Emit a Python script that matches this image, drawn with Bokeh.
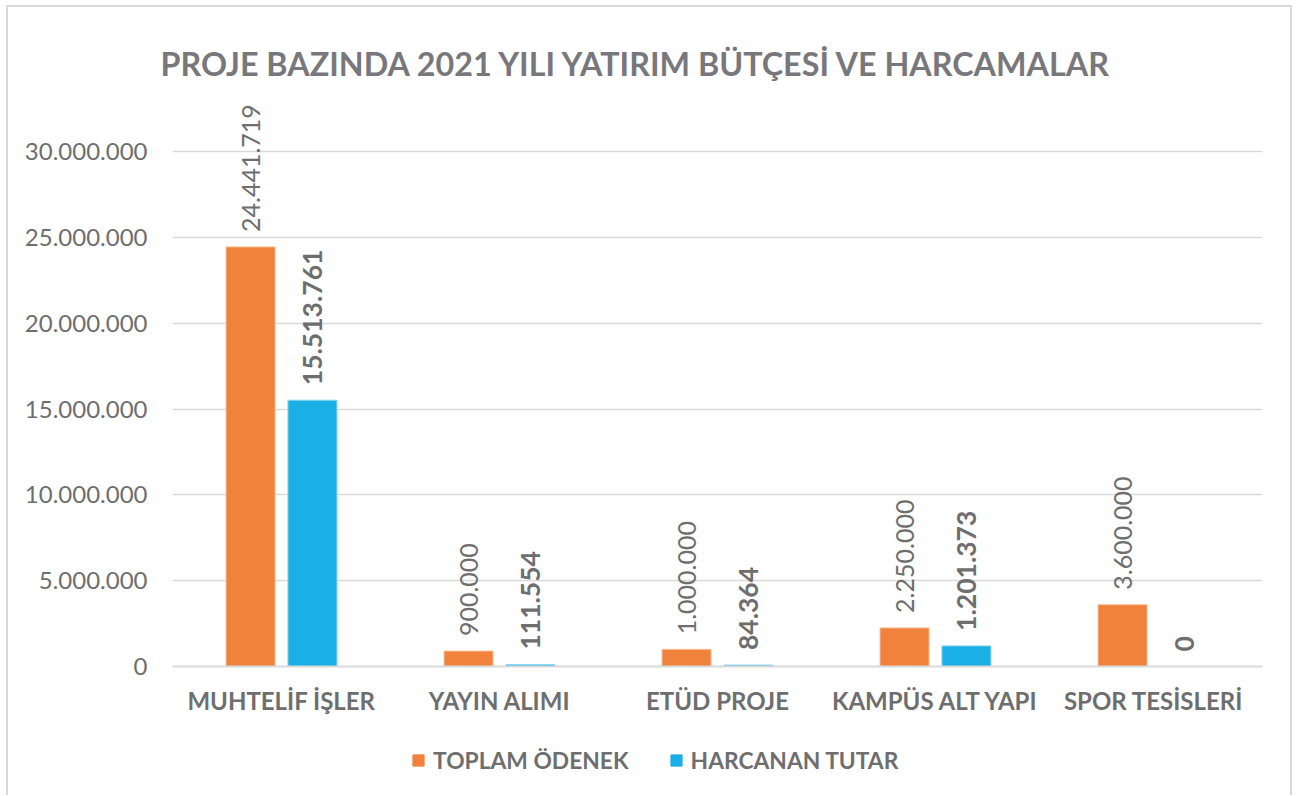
from bokeh.plotting import figure
from bokeh.layouts import column
from bokeh.models import (ColumnDataSource, FactorRange, Range1d, FixedTicker, CustomJSTickFormatter,
                          LabelSet, Legend, LegendItem, Title)
from bokeh.core.properties import value
from bokeh.transform import dodge
from bokeh.embed import file_html
from bokeh.resources import INLINE

categories = ["MUHTELİF İŞLER", "YAYIN ALIMI", "ETÜD PROJE", "KAMPÜS ALT YAPI", "SPOR TESİSLERİ"]
toplam_odenek = [24441719, 900000, 1000000, 2250000, 3600000]
harcanan_tutar = [15513761, 111554, 84364, 1201373, 0]
y_ticks = [0, 5000000, 10000000, 15000000, 20000000, 25000000, 30000000]
title_text = "PROJE BAZINDA 2021 YILI YATIRIM BÜTÇESİ VE HARCAMALAR"
series_names = ["TOPLAM ÖDENEK", "HARCANAN TUTAR"]

ORANGE = "#F1823B"
BLUE = "#1BB0E5"
GRAY = "#6E6E6E"
TITLE_GRAY = "#78787C"
GRID = "#D9D9D9"
FONT = "Lato"


def fmt(v):
    return f"{v:,}".replace(",", ".")


source = ColumnDataSource(data=dict(
    cat=categories,
    top=toplam_odenek,
    harc=harcanan_tutar,
    top_lbl=[fmt(v) for v in toplam_odenek],
    harc_lbl=[fmt(v) for v in harcanan_tutar],
))

W = 1296
H_MAIN = 730
H_LEG = 65
FRAME_L, FRAME_R, FRAME_B, FRAME_T = 172, 1262, 666, 91
# 30M sits at y=151, 0 at y=666
px_per_unit = (FRAME_B - 151) / 30000000
y_top = (FRAME_B - FRAME_T) / px_per_unit

p = figure(x_range=FactorRange(factors=categories, range_padding=0),
           y_range=Range1d(0, y_top),
           width=W, height=H_MAIN, output_backend="svg", toolbar_location=None,
           min_border_left=FRAME_L, min_border_right=W - FRAME_R, min_border_top=FRAME_T,
           min_border_bottom=H_MAIN - FRAME_B)

p.outline_line_color = None
p.background_fill_color = "white"
p.border_fill_alpha = 0

p.title = Title(text=title_text, align="left", offset=-12, standoff=17,
                text_font=FONT, text_font_size="32.3px", text_font_style="bold",
                text_color=TITLE_GRAY)

off = 0.142
bw = 0.225
r1 = p.vbar(x=dodge("cat", -off, range=p.x_range), top="top", width=bw, source=source,
            fill_color=ORANGE, line_color="#F8C09A", line_width=1)
r2 = p.vbar(x=dodge("cat", off, range=p.x_range), top="harc", width=bw, source=source,
            fill_color=BLUE, line_color="#8FD6F2", line_width=1)

lab1 = LabelSet(x=dodge("cat", -off, range=p.x_range), y="top", text="top_lbl", source=source,
                angle=1.5708, text_align="left", text_baseline="middle", y_offset=15,
                text_font=value(FONT), text_font_size="25px", text_color=GRAY)
lab2 = LabelSet(x=dodge("cat", off, range=p.x_range), y="harc", text="harc_lbl", source=source,
                angle=1.5708, text_align="left", text_baseline="middle", y_offset=15,
                text_font=value(FONT), text_font_size="26.5px", text_font_style="bold",
                text_color=GRAY)
p.add_layout(lab1)
p.add_layout(lab2)

# axes
p.yaxis.ticker = FixedTicker(ticks=y_ticks)
p.yaxis.formatter = CustomJSTickFormatter(
    code='return Math.round(tick).toString().replace(/\\B(?=(\\d{3})+(?!\\d))/g, ".");')
p.yaxis.axis_line_color = None
p.yaxis.major_tick_line_color = None
p.yaxis.minor_tick_line_color = None
p.yaxis.major_label_standoff = 19
p.yaxis.major_label_text_font = FONT
p.yaxis.major_label_text_font_size = "24px"
p.yaxis.major_label_text_color = GRAY

p.xaxis.axis_line_color = GRID
p.xaxis.axis_line_width = 2
p.xaxis.major_tick_line_color = None
p.xaxis.minor_tick_line_color = None
p.xaxis.major_label_standoff = 13
p.xaxis.major_label_text_font = FONT
p.xaxis.major_label_text_font_size = "24px"
p.xaxis.major_label_text_font_style = "bold"
p.xaxis.major_label_text_color = GRAY

p.xgrid.grid_line_color = None
p.ygrid.grid_line_color = GRID
p.ygrid.grid_line_width = 1.5

# legend strip below the chart
leg = figure(x_range=Range1d(0, W), y_range=Range1d(0, H_LEG), width=W, height=H_LEG,
             output_backend="svg", toolbar_location=None, x_axis_type=None, y_axis_type=None,
             min_border_left=FRAME_L, min_border_right=W - FRAME_R,
             min_border_top=0, min_border_bottom=0)
leg.outline_line_color = None
leg.xgrid.grid_line_color = None
leg.ygrid.grid_line_color = None
leg.border_fill_alpha = 0
leg.background_fill_alpha = 0
# legend-only swatches (kept outside the visible range)
lr1 = leg.vbar(x=[-1000], top=[0], width=1, fill_color=ORANGE, line_color=ORANGE)
lr2 = leg.vbar(x=[-1000], top=[0], width=1, fill_color=BLUE, line_color=BLUE)
LEG_LEFT, LEG_TOP, LEG_ITEM_H = 411, 746, 28
legend = Legend(items=[LegendItem(label=series_names[0], renderers=[lr1]),
                       LegendItem(label=series_names[1], renderers=[lr2])],
                orientation="horizontal",
                location=(LEG_LEFT - FRAME_L, H_LEG - (LEG_TOP - H_MAIN) - LEG_ITEM_H),
                glyph_width=14, glyph_height=14, label_standoff=8, spacing=40,
                padding=0, margin=0, border_line_color=None, background_fill_alpha=0,
                label_text_font=FONT, label_text_font_size="22.8px",
                label_text_font_style="bold",
                label_text_color=GRAY, label_height=LEG_ITEM_H)
leg.add_layout(legend, "center")

bg = ("linear-gradient(#D9D9D9,#D9D9D9) 6px 5px / 2px 100% no-repeat, "
      "linear-gradient(#D9D9D9,#D9D9D9) 6px 5px / 1286px 2px no-repeat, "
      "linear-gradient(#D9D9D9,#D9D9D9) 1290px 5px / 2px 100% no-repeat, white")
layout = column(p, leg, spacing=0, styles={"background": bg})
open("out.html", "w").write(file_html(layout, INLINE))
